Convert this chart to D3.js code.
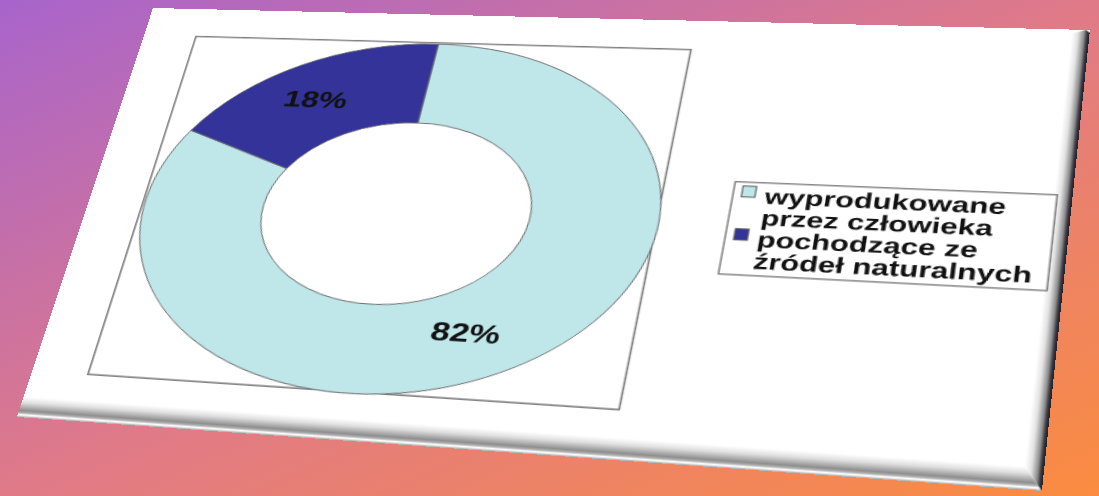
<!DOCTYPE html>
<html>
<head>
<meta charset="utf-8">
<script src="https://cdnjs.cloudflare.com/ajax/libs/d3/7.8.5/d3.min.js"></script>
<style>
  body { margin: 0; width: 1099px; height: 496px; overflow: hidden; }
  #bg { position: absolute; left: 0; top: 0; }
  #card { position: absolute; left: 0; top: 0; transform-origin: 0 0; }
  text { font-family: "Liberation Sans", Arial, sans-serif; font-weight: bold; }
</style>
</head>
<body>
<svg id="bg"></svg>
<div id="card"></div>
<script>
// data
const categories = ["wyprodukowane przez człowieka", "pochodzące ze źródeł naturalnych"];
const legendLines = [["wyprodukowane", "przez człowieka"], ["pochodzące ze", "źródeł naturalnych"]];
const values = [82, 18];
const labels = ["82%", "18%"];
const colors = ["#bfe7ea", "#333399"];

const width = 1099, height = 496;
// flat card size, later bent onto the tilted card
const W = 820, H = 440;
const cardQuad = [[153, 8], [1090, 30], [1042, 491], [17, 417]];
const flatQuad = [[0, 0], [W, 0], [W, H], [0, H]];

// small linear solver for the perspective matrix
function solve(A, b) {
  const n = b.length;
  const M = A.map((r, i) => r.concat([b[i]]));
  for (let c = 0; c < n; c++) {
    let p = c;
    for (let r = c + 1; r < n; r++) if (Math.abs(M[r][c]) > Math.abs(M[p][c])) p = r;
    [M[c], M[p]] = [M[p], M[c]];
    for (let r = 0; r < n; r++) {
      if (r === c) continue;
      const f = M[r][c] / M[c][c];
      for (let k = c; k <= n; k++) M[r][k] -= f * M[c][k];
    }
  }
  return M.map((r, i) => r[n] / r[i]);
}
function homography(src, dst) {
  const A = [], b = [];
  src.forEach(([x, y], i) => {
    const [X, Y] = dst[i];
    A.push([x, y, 1, 0, 0, 0, -X * x, -X * y]); b.push(X);
    A.push([0, 0, 0, x, y, 1, -Y * x, -Y * y]); b.push(Y);
  });
  const h = solve(A, b);
  h.push(1);
  return h;
}
function apply(h, [x, y]) {
  const w = h[6] * x + h[7] * y + h[8];
  return [(h[0] * x + h[1] * y + h[2]) / w, (h[3] * x + h[4] * y + h[5]) / w];
}
const toScreen = homography(flatQuad, cardQuad);
const toFlat = homography(cardQuad, flatQuad);
const F = p => apply(toFlat, p);
function rectFrom(pts) {
  const q = pts.map(F);
  return {
    x0: (q[0][0] + q[3][0]) / 2, x1: (q[1][0] + q[2][0]) / 2,
    y0: (q[0][1] + q[1][1]) / 2, y1: (q[2][1] + q[3][1]) / 2
  };
}

//Background
const bg = d3.select("#bg").attr("width", width).attr("height", height);
const bgGrad = bg.append("defs").append("linearGradient")
  .attr("id", "bgGrad").attr("x1", 0).attr("y1", 0).attr("x2", 1).attr("y2", 1);
bgGrad.append("stop").attr("offset", 0).attr("stop-color", "#a864cc");
bgGrad.append("stop").attr("offset", 0.5).attr("stop-color", "#e07a88");
bgGrad.append("stop").attr("offset", 1).attr("stop-color", "#fb8c40");
bg.append("rect").attr("width", width).attr("height", height).attr("fill", "url(#bgGrad)");

//Card
const h = toScreen;
d3.select("#card")
  .style("width", W + "px").style("height", H + "px")
  .style("transform", `matrix3d(${h[0]},${h[3]},0,${h[6]},${h[1]},${h[4]},0,${h[7]},0,0,1,0,${h[2]},${h[5]},0,${h[8]})`);

const svg = d3.select("#card").append("svg").attr("width", W).attr("height", H);
const defs = svg.append("defs");

const bevB = defs.append("linearGradient").attr("id", "bevB").attr("x1", 0).attr("y1", 0).attr("x2", 0).attr("y2", 1);
[[0, "#ffffff"], [0.3, "#dedede"], [0.68, "#8e8e8e"], [0.8, "#b4b4b4"], [0.87, "#ffffff"], [0.94, "#e0e0e0"], [1, "#9a9a9a"]]
  .forEach(([o, c]) => bevB.append("stop").attr("offset", o).attr("stop-color", c));
const bevR = defs.append("linearGradient").attr("id", "bevR").attr("x1", 0).attr("y1", 0).attr("x2", 1).attr("y2", 0);
[[0, "#ffffff"], [0.35, "#e2e2e2"], [0.7, "#8a8a8a"], [0.85, "#3a3a44"], [1, "#1e1e2a"]]
  .forEach(([o, c]) => bevR.append("stop").attr("offset", o).attr("stop-color", c));

svg.append("rect").attr("width", W).attr("height", H).attr("fill", "#ffffff");

const bb = 20, br = 14;
svg.append("polygon")
  .attr("points", [[0, H - bb], [W - br, H - bb], [W, H], [0, H]].join(" "))
  .attr("fill", "url(#bevB)");
svg.append("polygon")
  .attr("points", [[W - br, 4], [W - 3, 0], [W, 3], [W, H], [W - br, H - bb]].join(" "))
  .attr("fill", "url(#bevR)");

//Plot area
const plot = rectFrom([[197, 37], [692, 49], [618, 411], [87, 373]]);
svg.append("rect")
  .attr("x", plot.x0).attr("y", plot.y0)
  .attr("width", plot.x1 - plot.x0).attr("height", plot.y1 - plot.y0)
  .attr("fill", "none").attr("stroke", "#808080").attr("stroke-width", 1.6);

//Donut
const L = F([125, 265]), R = F([659, 222]), T = F([432, 44]), B = F([343, 393]);
const cx = (L[0] + R[0]) / 2, cy = (T[1] + B[1]) / 2;
const rOut = (R[0] - L[0]) / 2, ky = ((B[1] - T[1]) / 2) / rOut;
const rIn = rOut * 0.52;

const pie = d3.pie().sort(null).value(d => d);
const arcs = pie(values);
const arc = d3.arc().innerRadius(rIn).outerRadius(rOut);

svg.append("g")
  .attr("transform", `translate(${cx},${cy}) scale(1,${ky})`)
  .selectAll("path")
  .data(arcs)
  .join("path")
  .attr("d", arc)
  .attr("fill", (d, i) => colors[i])
  .attr("stroke", "#707070")
  .attr("stroke-width", 1)
  .attr("vector-effect", "non-scaling-stroke");

svg.append("g")
  .selectAll("text")
  .data(arcs)
  .join("text")
  .attr("transform", d => `translate(${cx + arc.centroid(d)[0] - 6},${cy + arc.centroid(d)[1] * ky}) scale(1.15,1)`)
  .attr("dy", "0.36em")
  .attr("text-anchor", "middle")
  .attr("font-size", 25)
  .attr("fill", "#111111")
  .text((d, i) => labels[i]);

//Legend
const leg = rectFrom([[728, 184], [1055, 192], [1050, 288], [725, 277]]);
svg.append("rect")
  .attr("x", leg.x0).attr("y", leg.y0)
  .attr("width", leg.x1 - leg.x0).attr("height", leg.y1 - leg.y0)
  .attr("fill", "#ffffff").attr("stroke", "#808080").attr("stroke-width", 1.4);

const lineH = 21.5;
const item = svg.append("g").selectAll("g")
  .data(categories)
  .join("g")
  .attr("transform", (d, i) => `translate(${leg.x0},${leg.y0 + 21 + i * 2 * lineH})`);

item.append("rect")
  .attr("x", 7).attr("y", -17).attr("width", 11).attr("height", 11)
  .attr("fill", (d, i) => colors[i]).attr("stroke", "#555555").attr("stroke-width", 1);

item.append("text")
  .attr("transform", "translate(26,0) scale(1.13,1)")
  .attr("font-size", 21.5)
  .attr("fill", "#111111")
  .selectAll("tspan")
  .data((d, i) => legendLines[i])
  .join("tspan")
  .attr("x", 0)
  .attr("dy", (d, j) => j === 0 ? 0 : lineH)
  .text(d => d);
</script>
</body>
</html>
